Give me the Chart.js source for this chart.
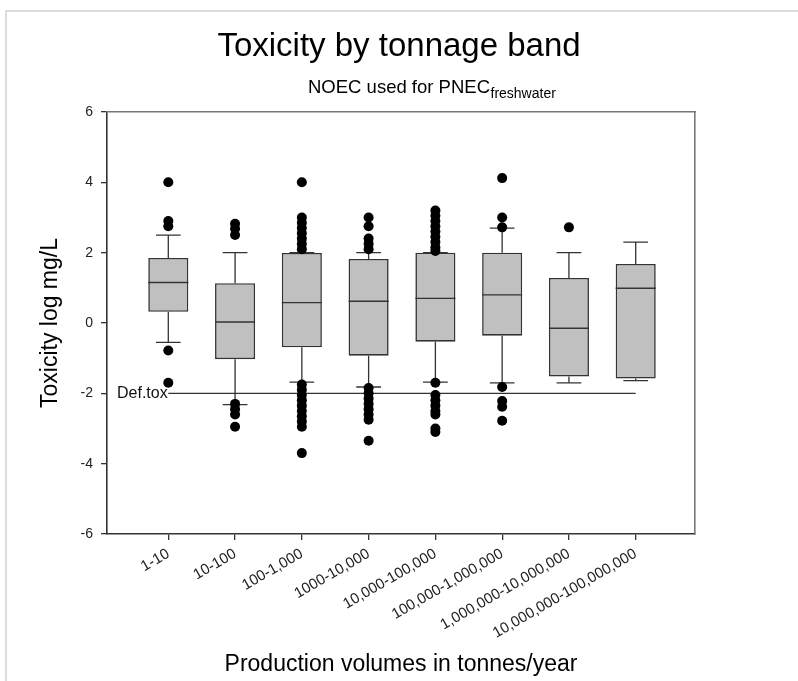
<!DOCTYPE html>
<html><head><meta charset="utf-8">
<script src="https://cdn.jsdelivr.net/npm/chart.js@4.4.1/dist/chart.umd.min.js"></script>
<style>html,body{margin:0;padding:0;background:#fff}#wrap{position:relative;width:798px;height:681px}</style>
</head><body><div id="wrap"><canvas id="c" width="798" height="681"></canvas></div>
<script>
// ---- data ----
const categories = ['1-10','10-100','100-1,000','1000-10,000','10,000-100,000','100,000-1,000,000','1,000,000-10,000,000','10,000,000-100,000,000'];
const whiskerLow  = [-0.55, -2.32, -1.68, -1.82, -1.68, -1.70, -1.70, -1.64];
const q1          = [ 0.32, -1.03, -0.69, -0.93, -0.53, -0.36, -1.52, -1.58];
const median      = [ 1.15,  0.03,  0.58,  0.62,  0.70,  0.80, -0.15,  0.99];
const q3          = [ 1.85,  1.13,  1.99,  1.82,  2.00,  2.00,  1.28,  1.68];
const whiskerHigh = [ 2.50,  2.00,  2.00,  2.00,  2.00,  2.70,  2.00,  2.30];
const outliers = [
  [4.0, 2.9, 2.75, -0.78, -1.7],
  [2.82, 2.68, 2.5, -2.3, -2.45, -2.6, -2.95],
  [4.0, 3.0, 2.85, 2.7, 2.55, 2.4, 2.25, 2.1, -1.75, -1.9, -2.05, -2.2, -2.35, -2.5, -2.65, -2.8, -2.95, -3.7],
  [3.0, 2.75, 2.4, 2.25, 2.1, -1.85, -2.0, -2.15, -2.3, -2.45, -2.6, -2.75, -3.35],
  [3.2, 3.05, 2.9, 2.75, 2.6, 2.45, 2.3, 2.15, 2.05, -1.7, -2.05, -2.2, -2.35, -2.5, -2.6, -3.0, -3.1],
  [4.12, 3.0, 2.72, -1.82, -2.22, -2.38, -2.78],
  [2.72],
  []
];
const yTicks = [-6, -4, -2, 0, 2, 4, 6];
const defTox = -2;
const defToxLabel = 'Def.tox';
const titleText = 'Toxicity by tonnage band';
const subtitleText = 'NOEC used for PNEC';
const subscriptText = 'freshwater';
const xTitle = 'Production volumes in tonnes/year';
const yTitle = 'Toxicity log mg/L';

// ---- styling ----
const FONT = '"Liberation Sans", Arial, Helvetica, sans-serif';
Chart.defaults.font.family = FONT;
const INK = '#333333';
const capHalf = 0.185;
const boxHalf = 0.3;

const stems = [], caps = [], meds = [], boxes = [], pts = [];
categories.forEach((c, i) => {
  stems.push({x: i, y: whiskerLow[i]}, {x: i, y: q1[i]}, {x: i, y: null});
  stems.push({x: i, y: q3[i]}, {x: i, y: whiskerHigh[i]}, {x: i, y: null});
  caps.push({x: i - capHalf, y: whiskerLow[i]}, {x: i + capHalf, y: whiskerLow[i]}, {x: i, y: null});
  caps.push({x: i - capHalf, y: whiskerHigh[i]}, {x: i + capHalf, y: whiskerHigh[i]}, {x: i, y: null});
  meds.push({x: i - boxHalf, y: median[i]}, {x: i + boxHalf, y: median[i]}, {x: i, y: null});
  boxes.push({x: i, y: [q1[i], q3[i]]});
  outliers[i].forEach(v => pts.push({x: i, y: v}));
});

const framePlugin = {
  id: 'frame',
  beforeDraw(chart) {
    const ctx = chart.ctx;
    ctx.save();
    ctx.fillStyle = '#ffffff';
    ctx.fillRect(0, 0, chart.width, chart.height);
    ctx.strokeStyle = '#dcdcdc';
    ctx.lineWidth = 2;
    ctx.beginPath();
    ctx.moveTo(6, chart.height);
    ctx.lineTo(6, 11);
    ctx.lineTo(chart.width, 11);
    ctx.stroke();
    ctx.restore();
  }
};

const textPlugin = {
  id: 'extraText',
  afterDraw(chart) {
    const ctx = chart.ctx;
    ctx.save();
    // subscript after the subtitle
    const sub = chart.boxes.find(b => b.options && b.options.text === subtitleText);
    if (sub) {
      const f = Chart.helpers.toFont(sub.options.font);
      const pad = Chart.helpers.toPadding(sub.options.padding);
      const midY = sub.top + pad.top + f.lineHeight / 2;
      ctx.font = f.string;
      const w = ctx.measureText(subtitleText).width;
      const x = (sub.left + sub.right) / 2 + w / 2;
      ctx.font = '14px ' + FONT;
      ctx.fillStyle = '#000';
      ctx.textAlign = 'left';
      ctx.textBaseline = 'alphabetic';
      ctx.fillText(subscriptText, x + 0.5, midY + 0.347 * f.size + 3.8);
    }
    // Def.tox label
    const ys = chart.scales.y;
    ctx.font = '16px ' + FONT;
    ctx.fillStyle = '#111';
    ctx.textAlign = 'left';
    ctx.textBaseline = 'middle';
    ctx.fillText(defToxLabel, chart.chartArea.left + 10, ys.getPixelForValue(defTox));
    ctx.restore();
  }
};

new Chart(document.getElementById('c'), {
  type: 'scatter',
  data: {
    datasets: [
      {type: 'scatter', label: 'def', data: [{x: 0, y: defTox}, {x: categories.length - 1, y: defTox}],
       showLine: true, borderColor: INK, borderWidth: 1.3, pointRadius: 0, order: 6, xAxisID: 'x', yAxisID: 'y'},
      {type: 'scatter', label: 'stems', data: stems, showLine: true, spanGaps: false,
       borderColor: INK, borderWidth: 1.3, pointRadius: 0, order: 5, xAxisID: 'x', yAxisID: 'y'},
      {type: 'scatter', label: 'caps', data: caps, showLine: true, spanGaps: false,
       borderColor: INK, borderWidth: 1.3, pointRadius: 0, order: 5, xAxisID: 'x', yAxisID: 'y'},
      {type: 'bar', label: 'boxes', data: boxes, backgroundColor: '#c0c0c0', borderColor: INK,
       borderWidth: 1.6, borderSkipped: false, barPercentage: 0.6, categoryPercentage: 1.0,
       order: 3, xAxisID: 'x', yAxisID: 'y'},
      {type: 'scatter', label: 'medians', data: meds, showLine: true, spanGaps: false,
       borderColor: INK, borderWidth: 1.4, pointRadius: 0, order: 2, xAxisID: 'x', yAxisID: 'y'},
      {type: 'scatter', label: 'outliers', data: pts, pointRadius: 5, pointBackgroundColor: '#000',
       pointBorderColor: '#000', pointBorderWidth: 0, order: 1, xAxisID: 'x', yAxisID: 'y'}
    ]
  },
  options: {
    responsive: false,
    animation: false,
    devicePixelRatio: 1,
    layout: {padding: 0},
    plugins: {
      legend: {display: false},
      tooltip: {enabled: false},
      title: {display: true, text: titleText, color: '#000',
              font: {size: 33, weight: 'normal', family: FONT}, padding: {top: 27.2, bottom: 0}},
      subtitle: {display: true, text: subtitleText, color: '#000',
                 font: {size: 18.5, weight: 'normal', family: FONT}, padding: {top: 9.6, bottom: 13.4}}
    },
    scales: {
      x: {
        type: 'linear', position: 'bottom', min: -0.918, max: 7.888, offset: false,
        afterBuildTicks: a => { a.ticks = categories.map((c, i) => ({value: i})); },
        ticks: {autoSkip: false, minRotation: 30, maxRotation: 30, includeBounds: false,
                font: {size: 15}, color: '#222', padding: 5,
                callback: v => categories[v]},
        grid: {offset: false, drawOnChartArea: false, drawTicks: true, tickLength: 6, color: INK, lineWidth: 1.3},
        border: {color: INK, width: 1.6},
        title: {display: true, text: xTitle, color: '#000', font: {size: 23}, padding: {top: 0, bottom: 3}},
        afterFit: s => { s.height = 147; }
      },
      y: {
        type: 'linear', position: 'left', min: -6, max: 6,
        afterBuildTicks: a => { a.ticks = yTicks.map(v => ({value: v})); },
        ticks: {font: {size: 14}, color: '#222', padding: 8},
        grid: {offset: false, drawOnChartArea: false, drawTicks: true, tickLength: 6, color: INK, lineWidth: 1.3},
        border: {color: INK, width: 1.6},
        title: {display: true, text: yTitle, color: '#000', font: {size: 23}, padding: {top: 37, bottom: 0}},
        afterFit: s => { s.width = 107; }
      },
      x2: {
        type: 'linear', position: 'top', display: true,
        ticks: {display: false}, grid: {display: false},
        border: {color: '#777', width: 1.6},
        afterFit: s => { s.height = 0; }
      },
      y2: {
        type: 'linear', position: 'right', display: true,
        ticks: {display: false}, grid: {display: false},
        border: {color: '#777', width: 1.6},
        afterFit: s => { s.width = 103; }
      }
    }
  },
  plugins: [framePlugin, textPlugin]
});
</script>
</body></html>
